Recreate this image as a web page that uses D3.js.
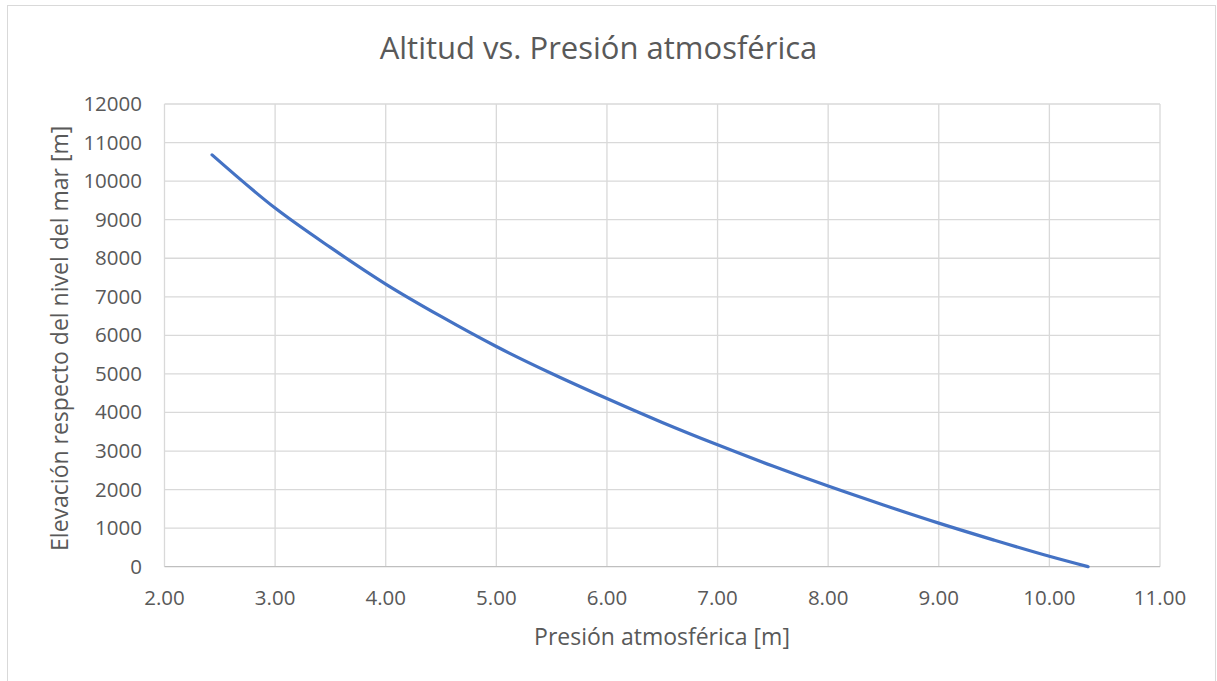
<!DOCTYPE html>
<html>

<head>
    <style>
        body { margin: 0; background: #fff; }
        text { font-family: "Open Sans", sans-serif; fill: #595959; }
    </style>
</head>

<body>
    <script src="https://d3js.org/d3.v7.min.js"></script>
    <div id="chart"></div>
    <script>
        const width = 1217
        const height = 681
        const padding = { top: 104, left: 164.5, right: 57, bottom: 114.3 }

        // presion atmosferica [m] vs elevacion [m]
        const presion = [2.43, 3.00, 3.50, 4.00, 4.50, 5.00, 5.50, 6.00, 6.50, 7.00, 7.50, 8.00, 8.50, 9.00, 9.50, 10.00, 10.35]
        const elevacion = [10680, 9300, 8280, 7330, 6490, 5710, 5010, 4360, 3740, 3160, 2610, 2090, 1600, 1130, 690, 270, 0]

        const xTicks = [2, 3, 4, 5, 6, 7, 8, 9, 10, 11]
        const yTicks = [0, 1000, 2000, 3000, 4000, 5000, 6000, 7000, 8000, 9000, 10000, 11000, 12000]

        const title = "Altitud vs. Presión atmosférica"
        const xTitle = "Presión atmosférica [m]"
        const yTitle = "Elevación respecto del nivel del mar [m]"

        const svg = d3.select("#chart").append("svg").attr("width", width).attr("height", height)

        // outer chart border
        svg.append("rect")
            .attr("x", 7.5).attr("y", 5.5)
            .attr("width", 1208).attr("height", 700)
            .attr("fill", "none").attr("stroke", "#d9d9d9")

        const x = d3.scaleLinear().domain([2, 11]).range([padding.left, width - padding.right])
        const y = d3.scaleLinear().domain([0, 12000]).range([height - padding.bottom, padding.top])

        // grid
        svg.append("g")
            .selectAll("line")
            .data(yTicks.slice(1))
            .enter()
            .append("line")
            .attr("x1", x(2)).attr("x2", x(11))
            .attr("y1", d => y(d)).attr("y2", d => y(d))
            .attr("stroke", "#d9d9d9").attr("stroke-width", 1.3)

        svg.append("g")
            .selectAll("line")
            .data(xTicks)
            .enter()
            .append("line")
            .attr("x1", d => x(d)).attr("x2", d => x(d))
            .attr("y1", y(0)).attr("y2", y(12000))
            .attr("stroke", "#d9d9d9").attr("stroke-width", 1.3)

        // bottom axis line
        svg.append("line")
            .attr("x1", x(2)).attr("x2", x(11))
            .attr("y1", y(0)).attr("y2", y(0))
            .attr("stroke", "#bfbfbf").attr("stroke-width", 1.3)

        // tick labels
        svg.append("g")
            .selectAll("text")
            .data(yTicks)
            .enter()
            .append("text")
            .attr("x", 142)
            .attr("y", d => y(d) + 7)
            .attr("text-anchor", "end")
            .style("font-size", "20.5px")
            .text(d => d)

        svg.append("g")
            .selectAll("text")
            .data(xTicks)
            .enter()
            .append("text")
            .attr("x", d => x(d))
            .attr("y", 605)
            .attr("text-anchor", "middle")
            .style("font-size", "20.5px")
            .text(d => d.toFixed(2))

        // the line
        const points = presion.map((p, i) => [p, elevacion[i]])
        svg.append("path")
            .datum(points)
            .attr("fill", "none")
            .attr("stroke", "#4472c4")
            .attr("stroke-width", 3.2)
            .attr("stroke-linecap", "round")
            .attr("d", d3.line().x(d => x(d[0])).y(d => y(d[1])).curve(d3.curveMonotoneX))

        // titles
        svg.append("text")
            .attr("x", 598.5)
            .attr("y", 59)
            .attr("text-anchor", "middle")
            .style("font-size", "31px")
            .text(title)

        svg.append("text")
            .attr("x", 662)
            .attr("y", 645)
            .attr("text-anchor", "middle")
            .style("font-size", "23px")
            .text(xTitle)

        svg.append("text")
            .attr("transform", "translate(68," + ((y(0) + y(12000)) / 2 + 3) + ") rotate(-90)")
            .attr("text-anchor", "middle")
            .style("font-size", "23px")
            .text(yTitle)
    </script>
</body>

</html>
